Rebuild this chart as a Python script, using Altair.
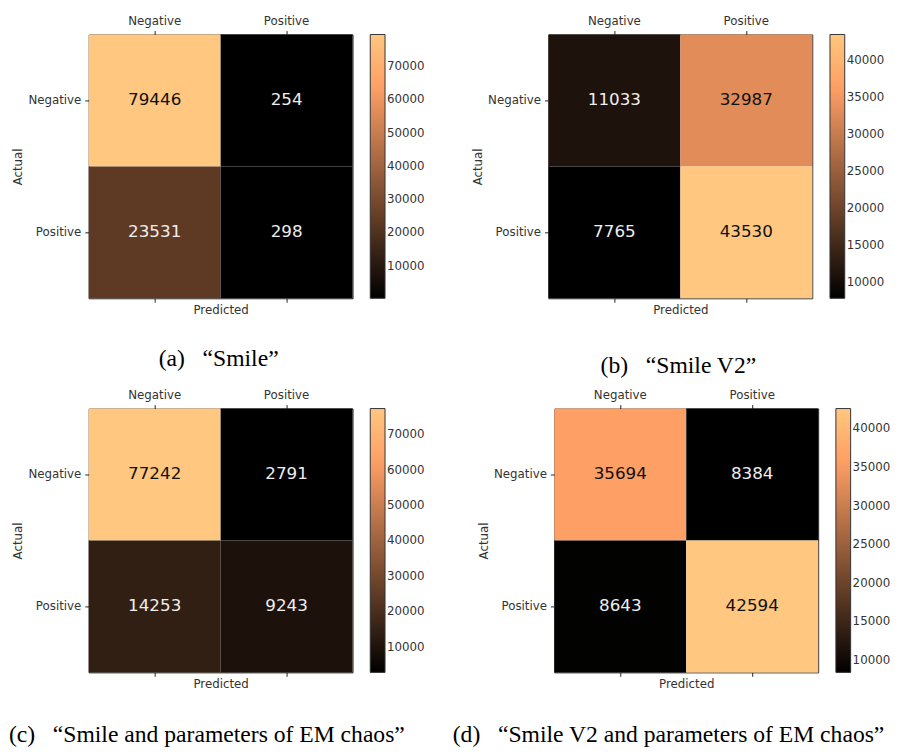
import altair as alt
import pandas as pd

labels = ["Negative", "Positive"]

smile = [[79446, 254], [23531, 298]]
smile_v2 = [[11033, 32987], [7765, 43530]]
smile_em = [[77242, 2791], [14253, 9243]]
smile_v2_em = [[35694, 8384], [8643, 42594]]

captions = [
    "(a)\u00a0\u00a0\u00a0\u201cSmile\u201d",
    "(b)\u00a0\u00a0\u00a0\u201cSmile V2\u201d",
    "(c)\u00a0\u00a0\u00a0\u201cSmile and parameters of EM chaos\u201d",
    "(d)\u00a0\u00a0\u00a0\u201cSmile V2 and parameters of EM chaos\u201d",
]

ticks_wide = [10000, 20000, 30000, 40000, 50000, 60000, 70000]
ticks_narrow = [10000, 15000, 20000, 25000, 30000, 35000, 40000]

# matplotlib "copper" colormap stops (0, 0.8, 1.0)
copper = ["#000000", "#ff9f65", "#ffc77f"]

SIZE = 268


def panel(matrix, caption, ticks, dx, offset):
    rows = []
    for i, a in enumerate(labels):
        for j, p in enumerate(labels):
            rows.append({"actual": a, "pred": p, "count": int(matrix[i][j])})
    df = pd.DataFrame(rows)
    lo = float(df["count"].min())
    hi = float(df["count"].max())
    df["light"] = [bool(v > (lo + hi) / 2) for v in df["count"]]
    knee = lo + 0.8 * (hi - lo)
    band = alt.Scale(paddingInner=0, paddingOuter=0)
    y_axis = alt.Axis(title="Actual", domain=False, tickSize=4, labelPadding=4,
                      titlePadding=3, grid=False, labelAngle=0)
    base = alt.Chart(df)
    rect = base.mark_rect().encode(
        x=alt.X(
            "pred:N", sort=labels, scale=band,
            axis=alt.Axis(orient="top", title=None, labelAngle=0, domain=False,
                          tickSize=4, labelPadding=3, grid=False),
        ),
        y=alt.Y("actual:N", sort=labels, scale=band, axis=y_axis),
        color=alt.Color(
            "count:Q",
            scale=alt.Scale(domain=[lo, knee, hi], range=copper, interpolate="rgb"),
            legend=alt.Legend(title=None, values=ticks, orient="right", format="d"),
        ),
    )
    text = base.mark_text(font="DejaVu Sans", fontSize=17).encode(
        x=alt.X(
            "pred:N", sort=labels, scale=band,
            axis=alt.Axis(orient="bottom", title="Predicted", labels=False, tickSize=4,
                          domain=False, titlePadding=2, grid=False),
        ),
        y=alt.Y("actual:N", sort=labels, scale=band, axis=y_axis),
        text=alt.Text("count:Q", format="d"),
        color=alt.condition("datum.light", alt.value("#111111"), alt.value("#eeeeee")),
    )
    return (
        alt.layer(rect, text)
        .resolve_axis(x="independent")
        .properties(
            width=SIZE,
            height=SIZE,
            title=alt.TitleParams(
                text=caption, orient="bottom", anchor="middle", frame="group",
                font="Liberation Serif", fontSize=24, fontWeight="normal",
                color="black", offset=offset, dx=dx,
            ),
        )
    )


pa = panel(smile, captions[0], ticks_wide, -2, 32)
pb = panel(smile_v2, captions[1], ticks_narrow, -2, 39)
pc = panel(smile_em, captions[2], ticks_wide, -14, 34)
pd_ = panel(smile_v2_em, captions[3], ticks_narrow, -18, 34)

row1 = alt.hconcat(pa, pb, spacing=45).resolve_scale(color="independent")
row2 = alt.hconcat(pc, pd_, spacing=25).resolve_scale(color="independent")

chart = (
    alt.vconcat(row1, row2, spacing=10)
    .resolve_scale(color="independent")
    .properties(padding={"left": 0, "top": 0, "right": 0, "bottom": 0})
    .configure_view(stroke="#222222", strokeWidth=1)
    .configure_axis(
        labelFont="DejaVu Sans", labelFontSize=12, labelColor="#333333",
        titleFont="DejaVu Sans", titleFontSize=12, titleFontWeight="normal",
        titleColor="#333333", tickColor="#222222",
    )
    .configure_legend(
        gradientLength=SIZE, gradientThickness=15, gradientStrokeColor="#333333",
        gradientStrokeWidth=1, labelFont="DejaVu Sans", labelFontSize=12,
        labelColor="#333333", labelOffset=8, offset=18, padding=0,
    )
)

chart.save("out.html", embed_options={"renderer": "svg", "actions": False})
